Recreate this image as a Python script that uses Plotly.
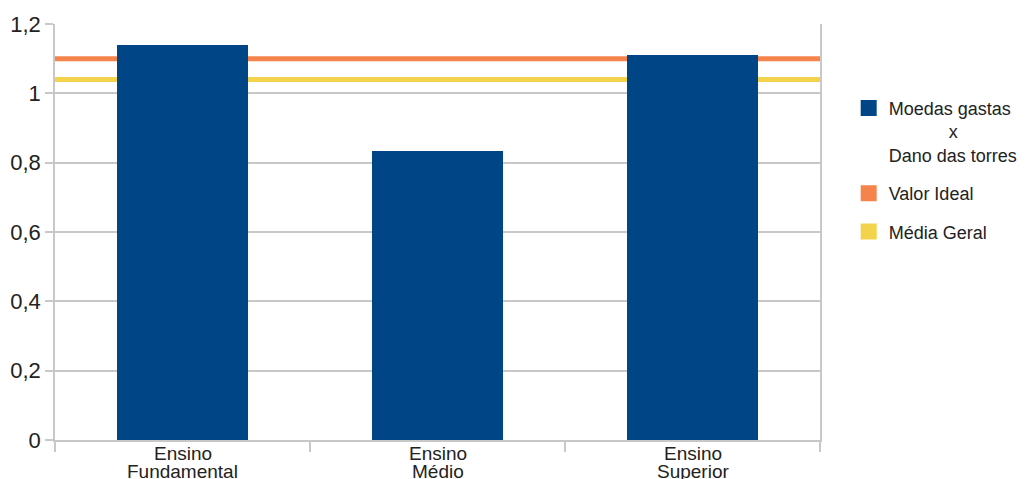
import plotly.graph_objects as go

categories = ["Ensino<br>Fundamental", "Ensino<br>Médio", "Ensino<br>Superior"]
bar_values = [1.14, 0.834, 1.11]
valor_ideal = 1.10
media_geral = 1.04
y_ticks = [0, 0.2, 0.4, 0.6, 0.8, 1.0, 1.2]

BAR = "#004586"
ORANGE = "#F5844C"
YELLOW = "#F3D34C"
GRID = "#c8c8c8"
FONT = "Liberation Sans"
TXT = "#222"

x_pos = list(range(len(categories)))
nb = "\u00a0"

fig = go.Figure()
fig.add_trace(go.Bar(
    x=x_pos, y=bar_values, width=0.51, marker=dict(color=BAR, line=dict(width=0)),
    showlegend=False, name="Moedas gastas x Dano das torres",
))
legend_items = [
    (f"Moedas gastas<br>{nb*12}x<br>Dano das torres", BAR),
    ("Valor Ideal", ORANGE),
    ("Média Geral", YELLOW),
]
for i, (name, col) in enumerate(legend_items):
    fig.add_trace(go.Scatter(x=[None], y=[None], mode="markers", legendgroup=f"g{i}",
        marker=dict(symbol="square", size=16, color=col), name=name))

for val, col in [(valor_ideal, ORANGE), (media_geral, YELLOW)]:
    fig.add_shape(type="line", xref="paper", x0=0, x1=1, yref="y", y0=val, y1=val,
                  line=dict(color=col, width=5), layer="below")

# category labels: one annotation per text line (tighter line spacing than tick labels)
for xi, cat in zip(x_pos, categories):
    for j, line in enumerate(cat.split("<br>")):
        fig.add_annotation(x=xi, xref="x", y=0, yref="paper", yanchor="middle",
                           yshift=-13 - 18 * j, text=line, showarrow=False,
                           font=dict(family=FONT, size=19, color=TXT))

fig.update_layout(
    width=1030, height=479,
    margin=dict(l=55, r=210, t=24, b=39, autoexpand=False),
    plot_bgcolor="white", paper_bgcolor="white",
    separators=", ",
    font=dict(family=FONT, size=18, color=TXT),
    bargap=0,
    legend=dict(x=1.0375, y=0.842, xanchor="left", yanchor="top",
                font=dict(family=FONT, size=18, color=TXT),
                valign="top", tracegroupgap=12, itemwidth=30),
    xaxis=dict(
        type="linear", range=[-0.5, 2.5], tickmode="array", tickvals=x_pos,
        showticklabels=False, ticks="", showgrid=False, zeroline=False,
        showline=True, linecolor=GRID, linewidth=1.5, automargin=False,
        minor=dict(tickmode="array", tickvals=[-0.5, 0.5, 1.5, 2.5], ticks="outside",
                   ticklen=10, tickcolor=GRID, tickwidth=1.5, showgrid=False),
    ),
    yaxis=dict(
        range=[0, 1.2], tickmode="array", tickvals=y_ticks,
        ticktext=[("%g" % v).replace(".", ",") for v in y_ticks],
        showgrid=True, gridcolor=GRID, gridwidth=1.5, zeroline=False,
        showline=True, linecolor=GRID, linewidth=1.5, mirror=True, automargin=False,
        ticks="outside", ticklen=8, tickcolor=GRID, tickwidth=1.5,
        tickfont=dict(family=FONT, size=22, color=TXT),
    ),
)

fig.write_html("out.html")
